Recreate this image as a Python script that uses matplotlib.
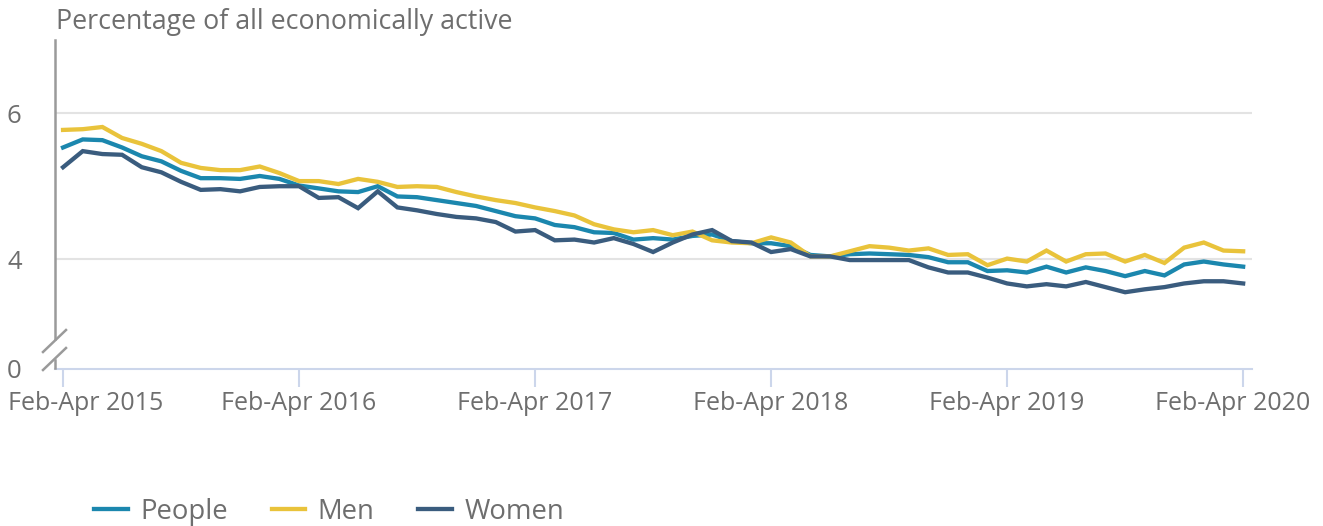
import numpy as np
import matplotlib
matplotlib.use("Agg")
import matplotlib.pyplot as plt
from matplotlib.lines import Line2D
from matplotlib.transforms import ScaledTranslation, blended_transform_factory

# ---- data (unemployment rate, %, rolling 3-month periods Feb-Apr 2015 .. Feb-Apr 2020)
people = [5.53, 5.64, 5.63, 5.53, 5.41, 5.34, 5.21, 5.11, 5.11, 5.10, 5.14, 5.10,
          5.01, 4.97, 4.93, 4.92, 5.00, 4.86, 4.85, 4.81, 4.77, 4.73, 4.66, 4.59,
          4.56, 4.47, 4.44, 4.37, 4.36, 4.27, 4.29, 4.27, 4.32, 4.34, 4.25, 4.22,
          4.22, 4.18, 4.06, 4.04, 4.07, 4.08, 4.07, 4.06, 4.03, 3.96, 3.96, 3.84,
          3.85, 3.82, 3.90, 3.82, 3.89, 3.84, 3.77, 3.84, 3.78, 3.93, 3.97, 3.93,
          3.90]
men = [5.77, 5.78, 5.81, 5.66, 5.58, 5.48, 5.32, 5.25, 5.22, 5.22, 5.27, 5.18,
       5.07, 5.07, 5.03, 5.10, 5.06, 4.99, 5.00, 4.99, 4.92, 4.86, 4.81, 4.77,
       4.71, 4.66, 4.60, 4.48, 4.41, 4.37, 4.40, 4.33, 4.38, 4.26, 4.23, 4.22,
       4.30, 4.23, 4.04, 4.04, 4.11, 4.18, 4.16, 4.12, 4.15, 4.06, 4.07, 3.92,
       4.01, 3.97, 4.12, 3.97, 4.07, 4.08, 3.97, 4.06, 3.95, 4.16, 4.23, 4.12,
       4.11]
women = [5.26, 5.48, 5.44, 5.43, 5.26, 5.19, 5.06, 4.95, 4.96, 4.93, 4.99, 5.00,
         5.00, 4.84, 4.85, 4.70, 4.93, 4.71, 4.67, 4.62, 4.58, 4.56, 4.51, 4.38,
         4.40, 4.26, 4.27, 4.23, 4.29, 4.21, 4.10, 4.23, 4.34, 4.40, 4.25, 4.23,
         4.10, 4.14, 4.04, 4.04, 3.99, 3.99, 3.99, 3.99, 3.89, 3.82, 3.82, 3.75,
         3.67, 3.63, 3.66, 3.63, 3.69, 3.62, 3.55, 3.59, 3.62, 3.67, 3.70, 3.70,
         3.67]
series_names = ["People", "Men", "Women"]
tick_labels = ["Feb-Apr 2015", "Feb-Apr 2016", "Feb-Apr 2017",
               "Feb-Apr 2018", "Feb-Apr 2019", "Feb-Apr 2020"]
ytick_values = [4, 6]

# ---- style
colors = ["#1b87ae", "#e9c33b", "#3a5c7e"]
text_grey = "#6e6e6e"
plt.rcParams['font.family'] = ['Open Sans', 'DejaVu Sans']

W, H = 1323, 526
fig = plt.figure(figsize=(W / 100, H / 100), dpi=100)
ax = fig.add_axes([55 / W, 1 - 369 / H, (1252 - 55) / W, (369 - 40) / H])

x = np.arange(len(people))
for vals, name, c in zip([people, men, women], series_names, colors):
    ax.plot(x, vals, color=c, lw=3.1, label=name, solid_joinstyle='miter', zorder=3)

ax.set_xlim(-0.41, 60.45)
ax.set_ylim(2.5, 7.0)

# grid lines
for yv in ytick_values:
    ax.axhline(yv, color="#e3e3e3", lw=1.5, zorder=1)

# y ticks: axis break shows 0 at the bottom
ax.set_yticks([2.5] + ytick_values)
ax.set_yticklabels(["0"] + [str(v) for v in ytick_values])
ax.tick_params(axis='y', length=0, pad=24, labelsize=18.5, labelcolor=text_grey)

# x ticks yearly
xt = np.arange(0, len(people), 12)
ax.set_xticks(xt)
ax.set_xticklabels(tick_labels)
ax.tick_params(axis='x', length=13, width=1.5, color="#ccd6eb", pad=3,
               labelsize=18, labelcolor=text_grey)
lbls = ax.get_xticklabels()
lbls[0].set_ha('left')
lbls[0].set_transform(lbls[0].get_transform() + ScaledTranslation(-0.55, 0, fig.dpi_scale_trans))
lbls[-1].set_ha('right')
lbls[-1].set_transform(lbls[-1].get_transform() + ScaledTranslation(0.67, 0, fig.dpi_scale_trans))

for s in ["top", "right", "left"]:
    ax.spines[s].set_visible(False)
ax.spines["bottom"].set_color("#ccd6eb")
ax.spines["bottom"].set_linewidth(1.5)

# y axis line with break marks
axis_grey = "#9a9a9a"
bt = blended_transform_factory(ax.transAxes, ax.transData)
ax.plot([0, 0], [2.91, 7.0], color=axis_grey, lw=1.8, transform=bt, clip_on=False, zorder=4)
def fpt(px, py):
    return px / W, 1 - py / H
for (x0, y0, x1, y1) in [(43, 352, 66, 330), (43, 370, 66, 348), (55, 360, 55, 368)]:
    a, b = fpt(x0, y0)
    c2, d = fpt(x1, y1)
    fig.add_artist(Line2D([a, c2], [b, d], color=axis_grey, lw=1.8, transform=fig.transFigure))

# title
fig.text(56 / W, 1 - 22 / H, "Percentage of all economically active", ha='left', va='center',
         fontsize=19.3, color=text_grey)

# legend
leg = fig.legend(loc='center left', bbox_to_anchor=(94 / W, 1 - 512 / H), bbox_transform=fig.transFigure,
                 ncol=3, frameon=False, fontsize=19.8, handlelength=1.22, handletextpad=0.45,
                 columnspacing=1.6, borderpad=0, borderaxespad=0)
for t in leg.get_texts():
    t.set_color(text_grey)
for h in leg.get_lines():
    h.set_linewidth(3.1)

fig.savefig("out.png", dpi=100)
